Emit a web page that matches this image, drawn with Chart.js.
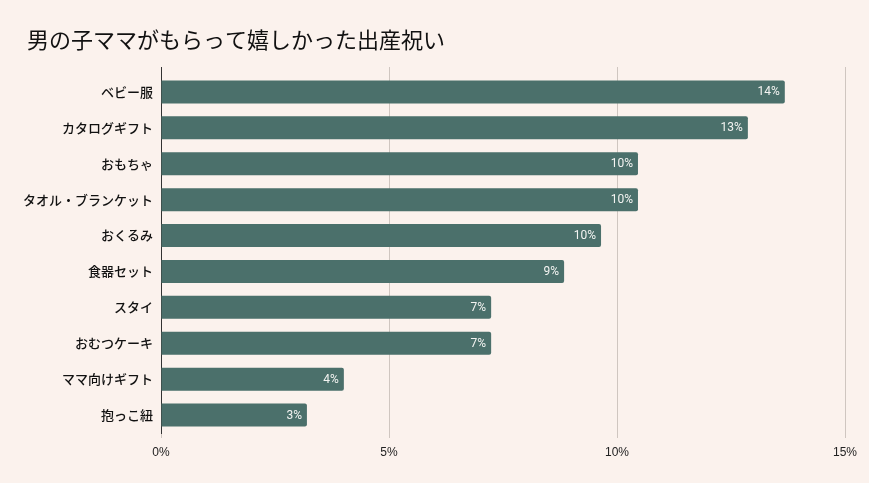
<!DOCTYPE html>
<html>
<head>
<meta charset="utf-8">
<script src="https://cdn.jsdelivr.net/npm/chart.js@4"></script>
<style>
html,body{margin:0;padding:0;background:#fbf2ed;}
#wrap{width:869px;height:483px;}
</style>
</head>
<body>
<div id="wrap"><canvas id="c" width="869" height="483"></canvas></div>
<script>
const title = "男の子ママがもらって嬉しかった出産祝い";
const labels = ["ベビー服","カタログギフト","おもちゃ","タオル・ブランケット","おくるみ","食器セット","スタイ","おむつケーキ","ママ向けギフト","抱っこ紐"];
const values = [13.68,12.87,10.46,10.46,9.65,8.84,7.24,7.24,4.01,3.20];
const xTicks = [0,5,10,15];

const jp = "'Noto Sans CJK JP','Noto Sans',sans-serif";

// title drawn at a fixed left inset
const titlePlugin = {
    id:'titleText',
    afterDraw(chart){
        const ctx=chart.ctx;
        ctx.save();
        ctx.font="22px "+jp;
        ctx.fillStyle="#111111";
        ctx.textAlign="left";
        ctx.textBaseline="middle";
        ctx.fillText(title,27,40);
        ctx.restore();
    }
};

// grid lines poke out a few px above the plot area
const gridTop = {
    id:'gridTop',
    beforeDatasetsDraw(chart){
        const ctx=chart.ctx, x=chart.scales.x, top=chart.chartArea.top;
        ctx.save();
        ctx.lineWidth=1;
        xTicks.forEach(v=>{
            const px=Math.round(x.getPixelForValue(v))+0.5;
            ctx.strokeStyle = v===0 ? '#333333' : '#cfc6c0';
            ctx.beginPath();
            ctx.moveTo(px,top-7);
            ctx.lineTo(px,top);
            ctx.stroke();
        });
        ctx.restore();
    }
};

// value labels inside bar ends
const barLabels = {
    id:'barLabels',
    afterDatasetsDraw(chart){
        const ctx=chart.ctx;
        const meta=chart.getDatasetMeta(0);
        ctx.save();
        ctx.font="12px Roboto, sans-serif";
        ctx.fillStyle="#f4f4f2";
        ctx.textAlign="right";
        ctx.textBaseline="middle";
        meta.data.forEach((bar,i)=>{
            ctx.fillText(Math.round(values[i])+"%",bar.x-5,bar.y+0.5);
        });
        ctx.restore();
    }
};

new Chart(document.getElementById("c"),{
    type:'bar',
    data:{
        labels:labels,
        datasets:[{
            data:values,
            backgroundColor:'#4b706b',
            borderRadius:2,
            categoryPercentage:0.8,
            barPercentage:0.8
        }]
    },
    plugins:[titlePlugin,gridTop,barLabels],
    options:{
        indexAxis:'y',
        responsive:false,
        animation:false,
        layout:{padding:{left:0,right:24,top:74,bottom:20}},
        plugins:{
            legend:{display:false},
            tooltip:{enabled:false},
            title:{display:false}
        },
        scales:{
            x:{
                min:0,max:15,
                afterBuildTicks(s){ s.ticks = xTicks.map(v=>({value:v})); },
                afterFit(s){ s.height=30; },
                grid:{color:'#cfc6c0',tickLength:5,drawTicks:true},
                border:{display:false},
                ticks:{
                    color:'#222222',
                    padding:7,
                    font:{family:"'Liberation Sans',Arial,sans-serif",size:12},
                    callback:v=>v+"%"
                }
            },
            y:{
                afterFit(s){ s.width=161; },
                grid:{display:false,drawTicks:false,tickLength:0},
                border:{display:true,color:'#333333',width:1},
                ticks:{
                    color:'#111111',
                    padding:8,
                    font:{family:jp,size:13,weight:'500'}
                }
            }
        }
    }
});
</script>
</body>
</html>
